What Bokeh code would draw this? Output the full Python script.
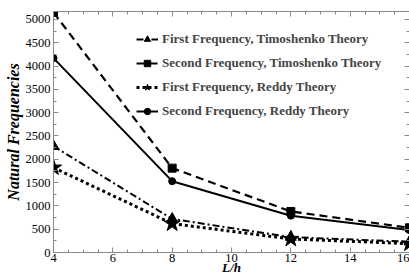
from bokeh.plotting import figure
from bokeh.models import LinearAxis, Legend, LegendItem, FixedTicker, CustomJSTickFormatter
from bokeh.embed import file_html
from bokeh.resources import INLINE

ratio = [4, 8, 12, 16]
timo_first = [2280, 720, 330, 230]
timo_second = [5150, 1810, 880, 530]
reddy_first = [1820, 620, 290, 190]
reddy_second = [4170, 1530, 790, 480]
y_ticks = [0, 500, 1000, 1500, 2000, 2500, 3000, 3500, 4000, 4500, 5000]
x_ticks = [4, 6, 8, 10, 12, 14, 16]
x_minor = [4 + 0.5 * i for i in range(25)]
y_minor = [250 * i for i in range(21)]

FONT = "Liberation Serif"
GRAY = "#8a8a8a"

p = figure(width=409, height=277, output_backend="svg", toolbar_location=None,
           x_range=(4, 16), y_range=(0, 5170),
           min_border_left=53, min_border_top=11, min_border_right=0, min_border_bottom=24)
p.outline_line_color = None
p.xgrid.visible = False
p.ygrid.visible = False

r1l = p.line(ratio, timo_first, line_color="black", line_width=2, line_dash="7 3 2 3")
r1m = p.scatter(ratio, timo_first, marker="triangle", size=11, color="black")
r2l = p.line(ratio, timo_second, line_color="black", line_width=2.2, line_dash="8 5")
r2m = p.scatter(ratio, timo_second, marker="square", size=8, color="black")
r3l = p.line(ratio, reddy_first, line_color="black", line_width=3, line_dash="3 3")
r3m = p.scatter(ratio, reddy_first, marker="star", size=17, color="black")
r4l = p.line(ratio, reddy_second, line_color="black", line_width=2)
r4m = p.scatter(ratio, reddy_second, marker="circle", size=7, color="black")

for ax in [p.xaxis[0], p.yaxis[0]]:
    ax.axis_line_color = GRAY
    ax.major_tick_line_color = GRAY
    ax.minor_tick_line_color = GRAY
    ax.major_tick_in = 5
    ax.major_tick_out = 0
    ax.minor_tick_in = 3
    ax.minor_tick_out = 0
    ax.major_label_text_font = FONT
    ax.major_label_text_font_size = "12.5px"
    ax.major_label_text_color = "black"
    ax.axis_label_text_font = FONT
    ax.axis_label_text_font_style = "bold italic"
    ax.axis_label_text_font_size = "16px"
    ax.axis_label_text_color = "black"

p.xaxis[0].ticker = FixedTicker(ticks=x_ticks, minor_ticks=x_minor)
p.yaxis[0].ticker = FixedTicker(ticks=y_ticks, minor_ticks=y_minor)
p.xaxis[0].major_label_standoff = 1
p.xaxis[0].axis_label = "L/h"
p.xaxis[0].axis_label_text_font_size = "13px"
p.xaxis[0].axis_label_standoff = -5
p.yaxis[0].major_label_standoff = 3
p.yaxis[0].axis_label = "Natural Frequencies"
p.yaxis[0].axis_label_standoff = 1

blank = CustomJSTickFormatter(code="return ''")
top = LinearAxis(ticker=FixedTicker(ticks=x_ticks, minor_ticks=x_minor), formatter=blank)
right = LinearAxis(ticker=FixedTicker(ticks=y_ticks, minor_ticks=y_minor), formatter=blank)
for ax in [top, right]:
    ax.axis_line_color = GRAY
    ax.major_tick_line_color = GRAY
    ax.minor_tick_line_color = GRAY
    ax.major_tick_in = 5
    ax.major_tick_out = 0
    ax.minor_tick_in = 3
    ax.minor_tick_out = 0
    ax.major_label_standoff = 0
p.add_layout(top, "above")
p.add_layout(right, "right")

legend = Legend(items=[
    LegendItem(label="First Frequency, Timoshenko Theory", renderers=[r1l, r1m]),
    LegendItem(label="Second Frequency, Timoshenko Theory", renderers=[r2l, r2m]),
    LegendItem(label="First Frequency, Reddy Theory", renderers=[r3l, r3m]),
    LegendItem(label="Second Frequency, Reddy Theory", renderers=[r4l, r4m]),
], location=(83, 133))
legend.border_line_color = None
legend.background_fill_alpha = 0
legend.label_text_font = FONT
legend.label_text_font_style = "bold"
legend.label_text_font_size = "13px"
legend.glyph_width = 22
legend.glyph_height = 16
legend.spacing = 8
legend.label_standoff = 4
p.add_layout(legend, "center")

open("out.html", "w").write(file_html(p, INLINE))
